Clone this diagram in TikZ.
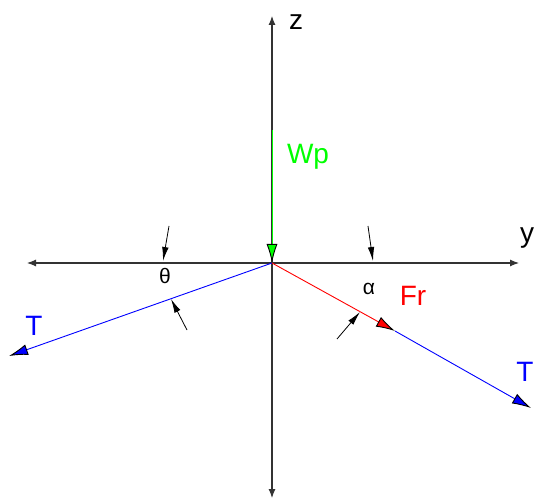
\documentclass[tikz,border=0pt]{standalone}
\usepackage{fontspec}
\setmainfont{Liberation Sans}
\usetikzlibrary{arrows.meta}

\begin{document}
\begin{tikzpicture}[
    x=1pt, y=-1pt,
    axis/.style={line width=1.1pt, draw=black!80, {Latex[length=9pt, width=7pt]}-{Latex[length=9pt, width=7pt]}},
    force/.style={line width=0.9pt, draw=#1, -{Latex[length=19pt, width=11pt, color=black, fill=#1]}},
    marker/.style={line width=0.8pt, -{Latex[length=14pt, width=6.5pt]}},
    lbl/.style={font=\fontsize{28}{32}\selectfont, inner sep=0pt},
    ang/.style={font=\fontsize{21}{25}\selectfont, inner sep=0pt}
]
\useasboundingbox (0,0) rectangle (535,502);
\coordinate (O) at (272,263);
\coordinate (ztop) at (272,16);
\coordinate (zbot) at (272,498);
\coordinate (yleft) at (27,263);
\coordinate (yright) at (519,263);
\coordinate (wstart) at (272,130);
\coordinate (tleft) at (9,356);
\coordinate (frend) at (395,331);
\coordinate (tright) at (531,408);
\coordinate (m1s) at (169,226);
\coordinate (m1e) at (163,261);
\coordinate (m2s) at (187,330);
\coordinate (m2e) at (171,299);
\coordinate (m3s) at (368,226);
\coordinate (m3e) at (373,261);
\coordinate (m4s) at (337,339);
\coordinate (m4e) at (360,312);
\draw[axis] (zbot) -- (ztop);
\draw[axis] (yleft) -- (yright);
\draw[force=blue] (O) -- (tleft);
\draw[force=blue] (frend) -- (tright);
\draw[force=red] (O) -- (frend);
\draw[force=green] (wstart) -- (O);
\draw[marker] (m1s) -- (m1e);
\draw[marker] (m2s) -- (m2e);
\draw[marker] (m3s) -- (m3e);
\draw[marker] (m4s) -- (m4e);
\node[lbl] (zlab) at (296,22) {z};
\node[lbl] (ylab) at (527,238) {y};
\node[lbl, text=green] (wplab) at (308,157) {Wp};
\node[lbl, text=blue] (tleftlab) at (34,326) {T};
\node[lbl, text=blue] (trightlab) at (525,372) {T};
\node[lbl, text=red] (frlab) at (413,296) {Fr};
\node[ang] (thetalab) at (165,276) {θ};
\node[ang] (alphalab) at (369,289) {α};
\end{tikzpicture}
\end{document}
